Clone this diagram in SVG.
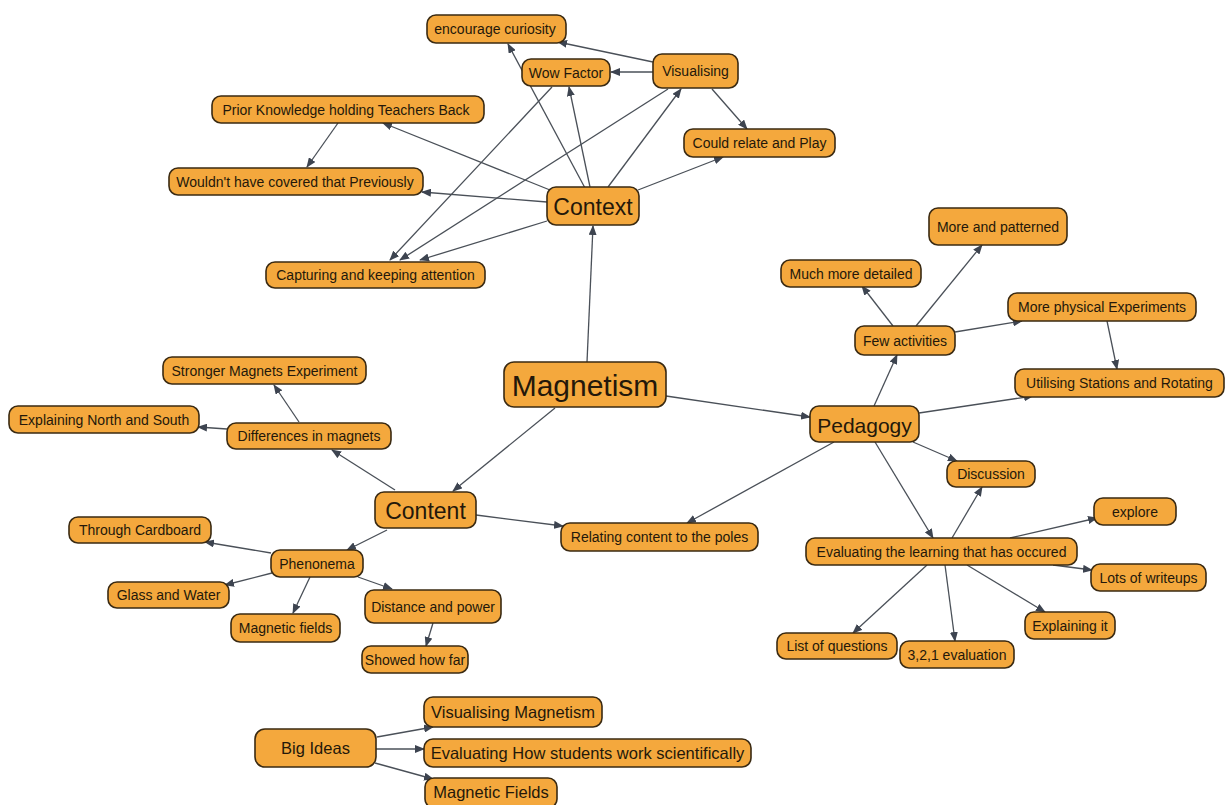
<svg xmlns="http://www.w3.org/2000/svg" width="1227" height="805" viewBox="0 0 1227 805">
  <style>
    .n rect { fill: #f4a83d; stroke: #3a2a12; stroke-width: 1.6; }
    .n text { font-family: "Liberation Sans", Arial, sans-serif; fill: #24180a; text-anchor: middle; dominant-baseline: central; }
    .s text { font-size: 14px; }
    .m text { font-size: 16.5px; }
    #edges line { stroke: #4a5058; stroke-width: 1.3; marker-end: url(#arrow); }
  </style>
  <defs>
    <marker id="arrow" markerUnits="userSpaceOnUse" markerWidth="10" markerHeight="8" refX="9" refY="4" orient="auto">
      <path d="M0,0 L10,4 L0,8 Z" fill="#3d4450"/>
    </marker>
  </defs>
  <rect width="1227" height="805" fill="#ffffff"/>

  <!-- connectors -->
  <g id="edges">
    <!-- Context branch -->
    <line x1="585" y1="188" x2="508" y2="44"/>
    <line x1="590" y1="187" x2="569" y2="87"/>
    <line x1="608" y1="187" x2="681" y2="89"/>
    <line x1="638" y1="190" x2="723" y2="157"/>
    <line x1="550" y1="190" x2="383" y2="123"/>
    <line x1="547" y1="202" x2="422" y2="192"/>
    <line x1="547" y1="221" x2="420" y2="260"/>
    <line x1="552" y1="87" x2="390" y2="260"/>
    <line x1="668" y1="89" x2="400" y2="260"/>
    <line x1="653" y1="62" x2="558" y2="42"/>
    <line x1="653" y1="72" x2="611" y2="72"/>
    <line x1="712" y1="89" x2="747" y2="129"/>
    <line x1="338" y1="123" x2="307" y2="167"/>
    <!-- Magnetism hub -->
    <line x1="587" y1="362" x2="593" y2="226"/>
    <line x1="555" y1="408" x2="453" y2="491"/>
    <line x1="666" y1="396" x2="810" y2="417"/>
    <!-- Content branch -->
    <line x1="834" y1="442" x2="687" y2="523"/>
    <line x1="476" y1="515" x2="563" y2="526"/>
    <line x1="395" y1="490" x2="332" y2="450"/>
    <line x1="387" y1="530" x2="347" y2="550"/>
    <line x1="358" y1="577" x2="392" y2="589"/>
    <line x1="299" y1="422" x2="274" y2="385"/>
    <line x1="227" y1="429" x2="198" y2="427"/>
    <line x1="271" y1="553" x2="205" y2="542"/>
    <line x1="272" y1="573" x2="225" y2="585"/>
    <line x1="310" y1="577" x2="293" y2="613"/>
    <line x1="433" y1="623" x2="426" y2="646"/>
    <!-- Pedagogy branch -->
    <line x1="874" y1="406" x2="897" y2="355"/>
    <line x1="893" y1="326" x2="862" y2="286"/>
    <line x1="916" y1="326" x2="982" y2="245"/>
    <line x1="955" y1="332" x2="1022" y2="321"/>
    <line x1="1107" y1="321" x2="1117" y2="369"/>
    <line x1="919" y1="413" x2="1033" y2="396"/>
    <line x1="913" y1="442" x2="957" y2="461"/>
    <line x1="875" y1="442" x2="933" y2="538"/>
    <line x1="952" y1="538" x2="982" y2="487"/>
    <line x1="1010" y1="538" x2="1097" y2="518"/>
    <line x1="1053" y1="565" x2="1092" y2="570"/>
    <line x1="967" y1="565" x2="1045" y2="612"/>
    <line x1="945" y1="565" x2="955" y2="641"/>
    <line x1="927" y1="565" x2="853" y2="633"/>
    <!-- Big Ideas -->
    <line x1="377" y1="737" x2="433" y2="727"/>
    <line x1="376" y1="749" x2="424" y2="749"/>
    <line x1="375" y1="763" x2="433" y2="779"/>
  </g>

  <!-- nodes -->
  <g id="encourage-curiosity" class="n s"><rect x="427" y="15" width="139" height="28" rx="9"/><text x="495" y="29">encourage curiosity</text></g>
  <g id="wow-factor" class="n s"><rect x="522" y="59" width="88" height="27" rx="9"/><text x="566" y="72.5">Wow Factor</text></g>
  <g id="visualising" class="n s"><rect x="653" y="54" width="85" height="34" rx="9"/><text x="695.5" y="71">Visualising</text></g>
  <g id="prior-knowledge" class="n s"><rect x="212" y="96" width="272" height="27" rx="9"/><text x="346" y="109.5">Prior Knowledge holding Teachers Back</text></g>
  <g id="wouldnt-have-covered" class="n s"><rect x="169" y="168" width="254" height="27" rx="9"/><text x="295" y="181.5">Wouldn't have covered that Previously</text></g>
  <g id="context" class="n"><rect x="547" y="187" width="92" height="38" rx="9"/><text x="593" y="207" font-size="23">Context</text></g>
  <g id="capturing-attention" class="n s"><rect x="266" y="262" width="219" height="26" rx="9"/><text x="375.5" y="275">Capturing and keeping attention</text></g>
  <g id="could-relate" class="n s"><rect x="684" y="129" width="151" height="28" rx="9"/><text x="759.5" y="143">Could relate and Play</text></g>

  <g id="more-and-patterned" class="n s"><rect x="929" y="208" width="138" height="37" rx="9"/><text x="998" y="226.5">More and patterned</text></g>
  <g id="much-more-detailed" class="n s"><rect x="781" y="260" width="140" height="27" rx="9"/><text x="851" y="273.5">Much more detailed</text></g>
  <g id="more-physical" class="n s"><rect x="1008" y="293" width="188" height="28" rx="9"/><text x="1102" y="307">More physical Experiments</text></g>
  <g id="few-activities" class="n s"><rect x="855" y="326" width="100" height="29" rx="9"/><text x="905" y="340.5">Few activities</text></g>
  <g id="utilising-stations" class="n s"><rect x="1015" y="369" width="209" height="28" rx="9"/><text x="1119.5" y="383">Utilising Stations and Rotating</text></g>
  <g id="pedagogy" class="n"><rect x="810" y="406" width="109" height="36" rx="9"/><text x="864.5" y="425" font-size="21">Pedagogy</text></g>

  <g id="magnetism" class="n"><rect x="504" y="362" width="162" height="45" rx="10"/><text x="585" y="385.5" font-size="30">Magnetism</text></g>

  <g id="stronger-magnets" class="n s"><rect x="163" y="357" width="203" height="27" rx="9"/><text x="264.5" y="370.5">Stronger Magnets Experiment</text></g>
  <g id="explaining-north-south" class="n s"><rect x="9" y="406" width="190" height="27" rx="9"/><text x="104" y="419.5">Explaining North and South</text></g>
  <g id="differences-in-magnets" class="n s"><rect x="227" y="423" width="164" height="26" rx="9"/><text x="309" y="436">Differences in magnets</text></g>
  <g id="content" class="n"><rect x="375" y="492" width="101" height="36" rx="9"/><text x="425.5" y="511" font-size="23">Content</text></g>
  <g id="relating-content" class="n s"><rect x="561" y="523" width="197" height="28" rx="9"/><text x="659.5" y="537">Relating content to the poles</text></g>
  <g id="through-cardboard" class="n s"><rect x="69" y="517" width="142" height="26" rx="9"/><text x="140" y="530">Through Cardboard</text></g>
  <g id="phenonema" class="n s"><rect x="271" y="550" width="92" height="27" rx="9"/><text x="317" y="563.5">Phenonema</text></g>
  <g id="glass-and-water" class="n s"><rect x="108" y="582" width="121" height="26" rx="9"/><text x="168.5" y="595">Glass and Water</text></g>
  <g id="magnetic-fields-small" class="n s"><rect x="231" y="614" width="109" height="28" rx="9"/><text x="285.5" y="628">Magnetic fields</text></g>
  <g id="distance-and-power" class="n s"><rect x="365" y="590" width="136" height="33" rx="9"/><text x="433" y="606.5">Distance and power</text></g>
  <g id="showed-how-far" class="n s"><rect x="362" y="646" width="106" height="27" rx="9"/><text x="415" y="659.5">Showed how far</text></g>

  <g id="discussion" class="n s"><rect x="947" y="461" width="88" height="26" rx="9"/><text x="991" y="474">Discussion</text></g>
  <g id="explore" class="n s"><rect x="1094" y="498" width="82" height="27" rx="9"/><text x="1135" y="511.5">explore</text></g>
  <g id="evaluating-learning" class="n s"><rect x="806" y="538" width="271" height="27" rx="9"/><text x="941.5" y="551.5">Evaluating the learning that has occured</text></g>
  <g id="lots-of-writeups" class="n s"><rect x="1091" y="564" width="115" height="27" rx="9"/><text x="1148.5" y="577.5">Lots of writeups</text></g>
  <g id="explaining-it" class="n s"><rect x="1025" y="612" width="90" height="27" rx="9"/><text x="1070" y="625.5">Explaining it</text></g>
  <g id="list-of-questions" class="n s"><rect x="777" y="633" width="120" height="26" rx="9"/><text x="837" y="646">List of questions</text></g>
  <g id="evaluation-321" class="n s"><rect x="900" y="641" width="114" height="27" rx="9"/><text x="957" y="654.5">3,2,1 evaluation</text></g>

  <g id="big-ideas" class="n"><rect x="255" y="729" width="121" height="38" rx="10"/><text x="315.5" y="748" font-size="16.5">Big Ideas</text></g>
  <g id="visualising-magnetism" class="n m"><rect x="424" y="697" width="178" height="30" rx="9"/><text x="513" y="712">Visualising Magnetism</text></g>
  <g id="evaluating-how-students" class="n m"><rect x="424" y="739" width="327" height="28" rx="9"/><text x="587.5" y="753">Evaluating How students work scientifically</text></g>
  <g id="magnetic-fields" class="n m"><rect x="425" y="778" width="132" height="30" rx="9"/><text x="491" y="792">Magnetic Fields</text></g>
</svg>
